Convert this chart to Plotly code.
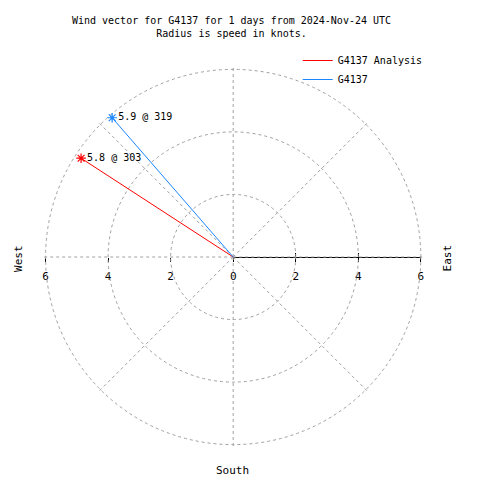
import plotly.graph_objects as go

# ---- data ----
series_names = ["G4137 Analysis", "G4137"]
speeds = [5.8, 5.9]          # knots
directions = [303, 319]      # degrees (compass)
colors = ["#ff0000", "#1a86ff"]
tick_vals = [-6, -4, -2, 0, 2, 4, 6]
tick_text = ["6", "4", "2", "0", "2", "4", "6"]
east_ticks = [0, 2, 4, 6]
radial_max = 6
title_text = "Wind vector for G4137 for 1 days from 2024-Nov-24 UTC<br>Radius is speed in knots."

W = H = 480
OFF = 8  # page body margin
cx, cy, R = 233 - OFF, 257 - OFF, 190
rmax = radial_max * 1.02
Rd = R * rmax / radial_max
xdom = [(cx - Rd) / W, (cx + Rd) / W]
ydom = [1 - (cy + Rd) / H, 1 - (cy - Rd) / H]
FONT = "DejaVu Sans Mono"
GRID = "#a0a0a0"

def px(x):
    return (x - OFF) / W

def py(y):
    return 1 - (y - OFF) / H

fig = go.Figure()

for name, s, d, c in zip(series_names, speeds, directions, colors):
    fig.add_trace(go.Scatterpolar(
        r=[0, s], theta=[d, d], mode="lines", name=name,
        line=dict(color=c, width=1), hoverinfo="skip"))
for name, s, d, c in zip(series_names, speeds, directions, colors):
    fig.add_trace(go.Scatterpolar(
        r=[s], theta=[d], mode="markers+text", showlegend=False,
        marker=dict(symbol="asterisk-open", size=8, color=c, line=dict(color=c, width=1.2)),
        text=[f"{s:.1f} @ {d}"], textposition="middle right",
        textfont=dict(family=FONT, size=10, color="black"), hoverinfo="skip"))

# invisible cartesian traces so the horizontal speed axes are drawn
fig.add_trace(go.Scatter(x=tick_vals, y=[0] * len(tick_vals), mode="none",
                         showlegend=False, hoverinfo="skip"))
fig.add_trace(go.Scatter(x=east_ticks, y=[0] * len(east_ticks), xaxis="x2", yaxis="y2",
                         mode="none", showlegend=False, hoverinfo="skip"))

ycart = [1 - (cy + R) / H, 1 - (cy - R) / H]
fig.update_layout(
    width=W, height=H,
    margin=dict(l=0, r=0, t=0, b=0),
    paper_bgcolor="white", plot_bgcolor="rgba(0,0,0,0)",
    font=dict(family=FONT, size=10, color="black"),
    title=dict(text=title_text, x=px(231.5), xanchor="center", xref="container",
               y=1 - 16 / H, yanchor="top", yref="container",
               font=dict(family=FONT, size=10, color="black")),
    legend=dict(x=px(430), xanchor="right", y=py(46), yanchor="top",
                bgcolor="rgba(0,0,0,0)", font=dict(family=FONT, size=10),
                tracegroupgap=0, itemwidth=30),
    polar=dict(
        domain=dict(x=xdom, y=ydom),
        bgcolor="rgba(0,0,0,0)",
        radialaxis=dict(range=[0, rmax], dtick=2, tick0=0, angle=0,
                        showline=False, ticks="", showticklabels=False,
                        showgrid=True, gridcolor=GRID, griddash="3px,3px", gridwidth=1),
        angularaxis=dict(rotation=90, direction="clockwise", dtick=45,
                         showline=False, ticks="", showticklabels=False,
                         showgrid=True, gridcolor=GRID, griddash="3px,3px", gridwidth=1),
    ),
    xaxis=dict(domain=[(cx - R) / W, (cx + R) / W], range=[-radial_max, radial_max], anchor="free",
               position=1 - cy / H, showgrid=False, zeroline=False, showline=False,
               tickmode="array", tickvals=tick_vals, ticktext=tick_text,
               ticks="outside", ticklen=4, tickcolor="black",
               ticklabelstandoff=5, tickfont=dict(family=FONT, size=11)),
    xaxis2=dict(domain=[cx / W, (cx + R) / W], range=[0, radial_max], anchor="free",
                position=1 - cy / H, showgrid=False, zeroline=False,
                showline=True, linecolor="black", linewidth=1.3, showticklabels=False,
                ticks="inside", ticklen=4, tickcolor="black",
                tickmode="array", tickvals=east_ticks),
    yaxis=dict(domain=ycart, range=[-radial_max, radial_max], visible=False),
    yaxis2=dict(domain=ycart, range=[-radial_max, radial_max], visible=False, anchor="x2"),
    annotations=[
        dict(text="West", x=px(15), y=py(258), xref="paper", yref="paper",
             xanchor="center", yanchor="middle",
             textangle=-90, showarrow=False, font=dict(family=FONT, size=11)),
        dict(text="East", x=px(450), y=py(258), xref="paper", yref="paper",
             xanchor="center", yanchor="middle",
             textangle=-90, showarrow=False, font=dict(family=FONT, size=11)),
        dict(text="South", x=px(232), y=py(470), xref="paper", yref="paper",
             xanchor="center", yanchor="middle",
             showarrow=False, font=dict(family=FONT, size=11)),
    ],
)

fig.write_html("out.html")
